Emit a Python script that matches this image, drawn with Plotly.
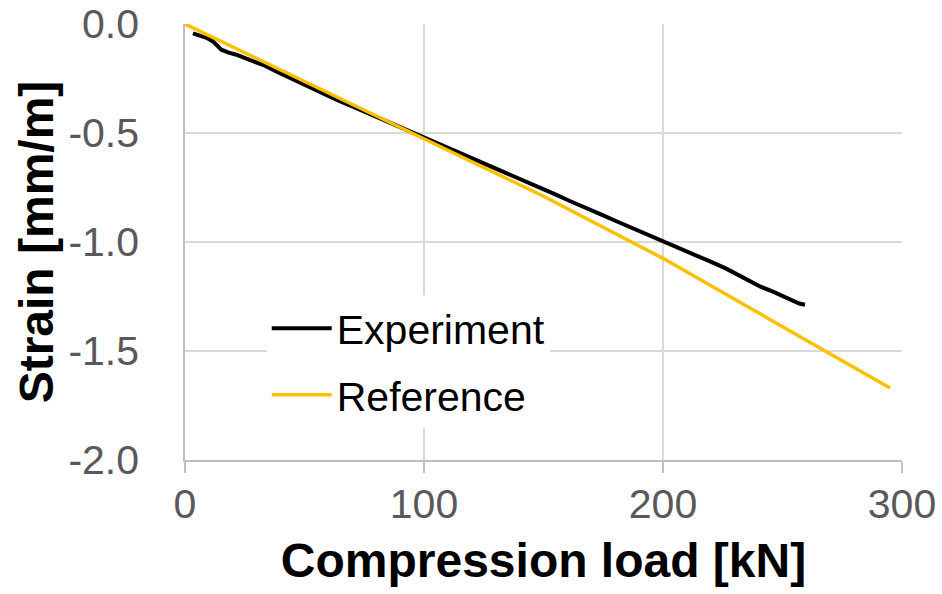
import plotly.graph_objects as go

# Experiment (measured) data
exp_load = [3.3, 6, 9, 11.7, 13.5, 15.2, 18, 21.5, 27, 32.6, 38, 44, 49.4, 56, 63.3, 70, 77, 84,
            91.2, 98, 105, 112, 119, 126, 133, 140, 147, 154, 161, 167, 174, 181, 188, 194, 200,
            207, 213, 219.7, 226, 233, 240.6, 246, 251, 255, 257, 259.4]
exp_strain = [-0.043, -0.052, -0.063, -0.080, -0.100, -0.118, -0.130, -0.141, -0.165, -0.187,
              -0.216, -0.247, -0.278, -0.312, -0.347, -0.378, -0.411, -0.444, -0.477, -0.510,
              -0.543, -0.575, -0.607, -0.642, -0.676, -0.709, -0.743, -0.777, -0.812, -0.839,
              -0.873, -0.907, -0.941, -0.970, -0.998, -1.030, -1.058, -1.089, -1.120, -1.160,
              -1.204, -1.228, -1.252, -1.268, -1.282, -1.288]

# Reference (calculated) curve
ref_load = [0, 50, 100, 150, 200, 250, 295]
ref_strain = [0, -0.262, -0.528, -0.790, -1.075, -1.390, -1.670]

x_ticks = [0, 100, 200, 300]
x_ticktext = ["0", "100", "200", "300"]
y_ticks = [0, -0.5, -1.0, -1.5, -2.0]
y_ticktext = ["0.0", "-0.5", "-1.0", "-1.5", "-2.0"]

FONT = "Liberation Sans, Arial, sans-serif"

fig = go.Figure()
fig.add_trace(go.Scatter(x=exp_load, y=exp_strain, mode="lines", name="Experiment",
                         legendgroup="a", line=dict(color="#000000", width=4)))
fig.add_trace(go.Scatter(x=ref_load, y=ref_strain, mode="lines", name="Reference",
                         legendgroup="b", line=dict(color="#FFC000", width=3.5)))

fig.update_layout(
    width=942, height=594,
    margin=dict(l=185, r=40, t=24, b=134, pad=0),
    paper_bgcolor="white", plot_bgcolor="white",
    font=dict(family=FONT, color="#595959", size=41),
    showlegend=True,
    legend=dict(x=0.114, y=0.378, xanchor="left", yanchor="top",
                bgcolor="white", font=dict(family=FONT, size=41, color="#000000"),
                tracegroupgap=10, traceorder="grouped", itemwidth=60),
    xaxis=dict(range=[0, 300], tickvals=x_ticks, ticktext=x_ticktext,
               showgrid=True, gridcolor="#d9d9d9", gridwidth=1.5,
               showline=True, linecolor="#bfbfbf", linewidth=1.5,
               ticks="outside", ticklen=11, tickcolor="#bfbfbf", tickwidth=1.5,
               ticklabelstandoff=-4,
               zeroline=False, automargin=False, tickfont=dict(size=41, color="#595959"),
               title=dict(text="<b>Compression load [kN]</b>",
                          font=dict(size=48, color="#000000"), standoff=17)),
    yaxis=dict(range=[-2, 0], tickvals=y_ticks, ticktext=y_ticktext,
               showgrid=True, gridcolor="#d9d9d9", gridwidth=1.5,
               showline=True, linecolor="#bfbfbf", linewidth=1.5,
               ticks="", zeroline=False, ticklabelstandoff=36, automargin=False,
               tickfont=dict(size=41, color="#595959"),
               title=dict(text="<b>Strain [mm/m]</b>",
                          font=dict(size=48, color="#000000"), standoff=0)),
)

fig.write_html("out.html")
